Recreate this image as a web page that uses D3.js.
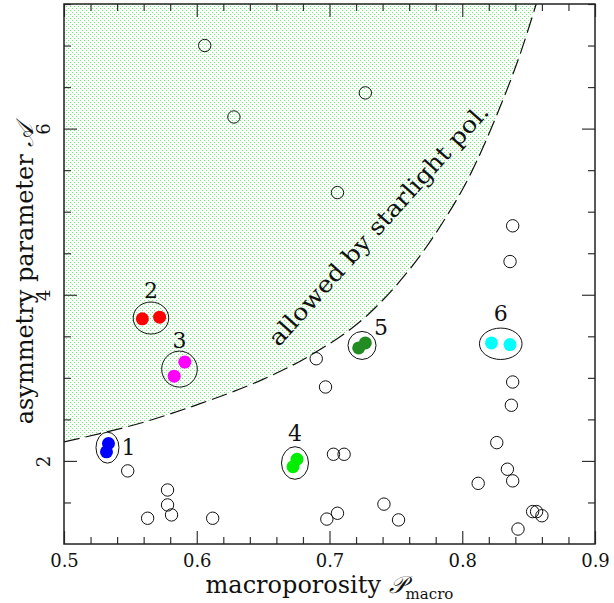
<!DOCTYPE html>
<html>
<head>
<meta charset="utf-8">
<script src="https://cdn.jsdelivr.net/npm/d3@7"></script>
<style>
  body { margin: 0; background: #fff; }
  text { font-family: "DejaVu Serif", serif; fill: #111; }
</style>
</head>
<body>
<svg id="chart" width="614" height="603"></svg>
<script>
// open circles (other grains)
const openX = [0.606, 0.628, 0.727, 0.706, 0.838, 0.836, 0.690, 0.697, 0.838, 0.837, 0.826,
  0.703, 0.711, 0.834, 0.838, 0.812, 0.741, 0.706, 0.698, 0.752, 0.853, 0.856, 0.860, 0.842,
  0.548, 0.578, 0.578, 0.581, 0.563, 0.612]
const openY = [7.00, 6.14, 6.43, 5.23, 4.83, 4.40, 3.23, 2.89, 2.95, 2.67, 2.22,
  2.08, 2.08, 1.90, 1.76, 1.73, 1.48, 1.37, 1.30, 1.29, 1.39, 1.39, 1.34, 1.18,
  1.88, 1.65, 1.47, 1.35, 1.31, 1.31]

// highlighted groups 1..6
const groupIds = ["1", "2", "3", "4", "5", "6"]
const groupX = [[0.5335, 0.532], [0.559, 0.572], [0.591, 0.583], [0.6755, 0.6725], [0.727, 0.722], [0.822, 0.836]]
const groupY = [[2.21, 2.11], [3.71, 3.73], [3.19, 3.02], [2.02, 1.93], [3.42, 3.36], [3.42, 3.40]]
const groupColors = ["#0000ff", "#ff0000", "#ff00ff", "#00ee00", "#228b22", "#00ffff"]

// boundary of region allowed by starlight polarization
const boundX = [0.500, 0.565, 0.600, 0.649, 0.685, 0.7305, 0.753, 0.783, 0.806, 0.828, 0.8435, 0.8563]
const boundY = [2.23, 2.49, 2.675, 2.976, 3.265, 3.783, 4.163, 4.813, 5.446, 6.241, 6.892, 7.53]

const xTicks = [0.5, 0.6, 0.7, 0.8, 0.9]
const yTicks = [2, 4, 6]

const margin = { top: 4, right: 19, bottom: 59, left: 64 },
  width = 614 - margin.left - margin.right,
  height = 603 - margin.top - margin.bottom

const svg = d3.select("#chart")
const g = svg.append("g").attr("transform", `translate(${margin.left},${margin.top})`)

const x = d3.scaleLinear().domain([0.5, 0.9]).range([0, width])
const y = d3.scaleLinear().domain([1, 7.5]).range([height, 0])

// dotted green fill pattern
const defs = svg.append("defs")
const pat = defs.append("pattern").attr("id", "dots")
  .attr("patternUnits", "userSpaceOnUse").attr("width", 4).attr("height", 4)
pat.append("rect").attr("x", 0).attr("y", 0).attr("width", 1).attr("height", 1).attr("fill", "#33ee33")
pat.append("rect").attr("x", 2).attr("y", 2).attr("width", 1).attr("height", 1).attr("fill", "#33ee33")

defs.append("clipPath").attr("id", "clip")
  .append("rect").attr("width", width).attr("height", height)

const bound = boundX.map((d, i) => ({ x: d, y: boundY[i] }))
const plot = g.append("g").attr("clip-path", "url(#clip)")

plot.append("path").datum(bound)
  .attr("d", d3.area().x(d => x(d.x)).y0(y(7.6)).y1(d => y(d.y)).curve(d3.curveMonotoneX))
  .attr("fill", "url(#dots)").attr("fill-opacity", 0.75)

plot.append("path").datum(bound)
  .attr("d", d3.line().x(d => x(d.x)).y(d => y(d.y)).curve(d3.curveMonotoneX))
  .attr("fill", "none").attr("stroke", "#111").attr("stroke-width", 1.2).attr("stroke-dasharray", "16,6")

// label along the boundary
g.append("text")
  .attr("transform", `translate(${x(0.7414)},${y(4.78)}) rotate(-48)`)
  .attr("font-size", 23)
  .attr("text-anchor", "middle")
  .attr("textLength", 316).attr("lengthAdjust", "spacingAndGlyphs")
  .text("allowed by starlight pol.")

// open circles
g.selectAll(".open").data(openX.map((d, i) => [d, openY[i]])).join("circle")
  .attr("class", "open")
  .attr("cx", d => x(d[0])).attr("cy", d => y(d[1])).attr("r", 6.2)
  .attr("fill", "none").attr("stroke", "#111").attr("stroke-width", 1)

// groups: ellipse radii and label offsets (px)
const ellR = [[11.5, 15.5], [17.8, 16], [17.8, 18], [13.5, 16.3], [14, 14], [21.3, 15.7]]
const labOff = [[21, 7], [0, -20], [0, -21], [0, -22], [19, -10], [0, -23]]

groupIds.forEach((id, i) => {
  const pts = groupX[i].map((d, j) => [x(d), y(groupY[i][j])])
  const cx = d3.mean(pts, p => p[0]), cy = d3.mean(pts, p => p[1])
  const gg = g.append("g")
  gg.append("ellipse").attr("cx", cx).attr("cy", cy).attr("rx", ellR[i][0]).attr("ry", ellR[i][1])
    .attr("fill", "none").attr("stroke", "#111").attr("stroke-width", 1)
  gg.selectAll("circle").data(pts).join("circle")
    .attr("cx", p => p[0]).attr("cy", p => p[1]).attr("r", 6.5).attr("fill", groupColors[i])
  gg.append("text").attr("x", cx + labOff[i][0]).attr("y", cy + labOff[i][1])
    .attr("text-anchor", "middle").attr("font-size", 22).text(id)
})

// axes: ticks inward on all four sides
const xMinor = d3.range(0.5, 0.9001, 0.02).filter(v => !xTicks.some(t => Math.abs(t - v) < 1e-6))
const yMinor = d3.range(1.5, 7.501, 0.5).filter(v => !yTicks.includes(v))

function axisSet(axisFn, scale, major, minor, tr, labels) {
  const a = g.append("g").attr("transform", tr)
  a.call(axisFn(scale).tickValues(major).tickSize(-13).tickFormat(labels ? d3.format(".1~f") : ""))
  a.append("g").call(axisFn(scale).tickValues(minor).tickSize(-7).tickFormat(""))
  a.selectAll(".domain").remove()
  a.selectAll("line").attr("stroke", "#333").attr("stroke-width", 1.2)
  a.selectAll("text").attr("font-family", "DejaVu Serif").attr("font-size", 18).attr("fill", "#111")
  return a
}

const bx = axisSet(d3.axisBottom, x, xTicks, xMinor, `translate(0,${height})`, true)
bx.selectAll("text").attr("y", 23).attr("dy", 0)
axisSet(d3.axisTop, x, xTicks, xMinor, "translate(0,0)", false)
const ly = axisSet(d3.axisLeft, y, yTicks, yMinor, "translate(0,0)", true)
ly.selectAll("text").attr("x", 0).attr("dy", 0).attr("text-anchor", "middle")
  .attr("transform", "translate(-14,0) rotate(-90)")
axisSet(d3.axisRight, y, yTicks, yMinor, `translate(${width},0)`, false)

g.append("rect").attr("width", width).attr("height", height)
  .attr("fill", "none").attr("stroke", "#222").attr("stroke-width", 1.5)

// axis titles
const xt = svg.append("text").attr("x", margin.left + width / 2).attr("y", 593)
  .attr("text-anchor", "middle").attr("font-size", 24)
xt.append("tspan").text("macroporosity ")
xt.append("tspan").attr("font-style", "italic").text("\u{1D4AB}")
xt.append("tspan").attr("font-size", 15).attr("dy", 6).text("macro")

const yt = svg.append("text").attr("transform", `translate(33,${margin.top + height / 2}) rotate(-90)`)
  .attr("text-anchor", "middle").attr("font-size", 24)
yt.append("tspan").text("asymmetry parameter ")
yt.append("tspan").attr("font-style", "italic").text("\u{1D49C}")
</script>
</body>
</html>
